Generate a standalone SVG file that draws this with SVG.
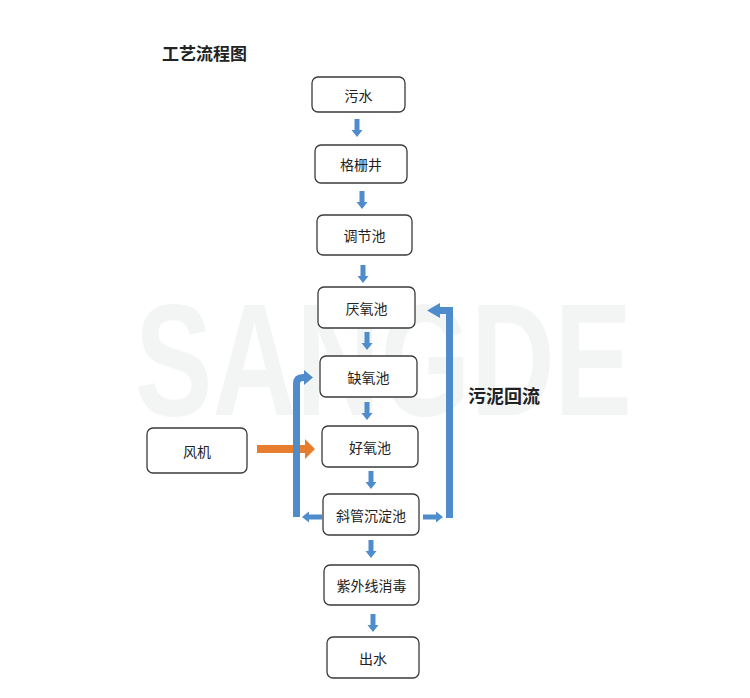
<svg xmlns="http://www.w3.org/2000/svg" xmlns:xlink="http://www.w3.org/1999/xlink" width="750" height="698" viewBox="0 0 750 698">
<style>
.box{fill:#fff;stroke:#3a3a3a;stroke-width:1.3}
.t{font-family:"Noto Sans CJK SC","Liberation Sans",sans-serif;font-size:14px;fill:#222;text-anchor:middle;dominant-baseline:central}
.b{fill:#4f8ccb}
.bl{fill:none;stroke:#4f8ccb;stroke-width:7}
.h{font-family:"Noto Sans CJK SC","Liberation Sans",sans-serif;font-weight:bold;fill:#222;dominant-baseline:central}
.wm{font-family:"Liberation Sans",sans-serif;font-weight:bold;font-size:160px;fill:#f3f5f5}
</style>
<defs>
<polygon id="dn" points="-2.5,0 2.5,0 2.5,11 5.5,11 0,18 -5.5,11 -2.5,11" class="b"/>
</defs>
<rect width="750" height="698" fill="#fff"/>
<text class="wm" x="135" y="415" textLength="497" lengthAdjust="spacingAndGlyphs">SANGDE</text>
<text class="h" x="162" y="52" font-size="17">工艺流程图</text>
<text class="h" x="468" y="395" font-size="18">污泥回流</text>
<g id="connectors">
<use xlink:href="#dn" x="357" y="119"/>
<use xlink:href="#dn" x="362" y="191"/>
<use xlink:href="#dn" x="363" y="265"/>
<use xlink:href="#dn" x="367" y="332"/>
<use xlink:href="#dn" x="367" y="402"/>
<use xlink:href="#dn" x="371" y="471"/>
<use xlink:href="#dn" x="371" y="540"/>
<use xlink:href="#dn" x="373" y="614"/>
<polygon points="257,445 305,445 305,439 315,449 305,459 305,453 257,453" fill="#e67e2e"/>
<polygon class="b" points="322,514.5 309,514.5 309,511.5 302,517 309,522.5 309,519.5 322,519.5"/>
<path class="bl" d="M296.5,517 V384 Q296.5,377.5 303,377.5 H305"/>
<polygon class="b" points="304,370 313,377.5 304,385"/>
<polygon class="b" points="423,514.5 436,514.5 436,511.5 443,517 436,522.5 436,519.5 423,519.5"/>
<path class="bl" d="M449.5,518 V310.5 H440" stroke-linejoin="miter"/>
<polygon class="b" points="440,303 440,318 427,310.5"/>
</g>
<g id="n1"><rect class="box" x="312" y="77" width="93" height="35" rx="6"/><text class="t" x="358.5" y="94.5">污水</text></g>
<g id="n2"><rect class="box" x="315" y="145" width="92" height="38" rx="6"/><text class="t" x="361" y="164">格栅井</text></g>
<g id="n3"><rect class="box" x="317" y="215" width="95" height="40" rx="6"/><text class="t" x="364.5" y="235">调节池</text></g>
<g id="n4"><rect class="box" x="318" y="287" width="97" height="41" rx="6"/><text class="t" x="366.5" y="307.5">厌氧池</text></g>
<g id="n5"><rect class="box" x="320" y="356" width="97" height="41" rx="6"/><text class="t" x="368.5" y="376.5">缺氧池</text></g>
<g id="n6"><rect class="box" x="322" y="426" width="96" height="41" rx="6"/><text class="t" x="370" y="446.5">好氧池</text></g>
<g id="n7"><rect class="box" x="323" y="494" width="96" height="41" rx="6"/><text class="t" x="371" y="514.5">斜管沉淀池</text></g>
<g id="n8"><rect class="box" x="324" y="565" width="95" height="40" rx="6"/><text class="t" x="371.5" y="585">紫外线消毒</text></g>
<g id="n9"><rect class="box" x="327" y="637" width="92" height="41" rx="6"/><text class="t" x="373" y="657.5">出水</text></g>
<g id="n10"><rect class="box" x="147" y="428" width="100" height="45" rx="6"/><text class="t" x="197" y="450.5">风机</text></g>
</svg>
